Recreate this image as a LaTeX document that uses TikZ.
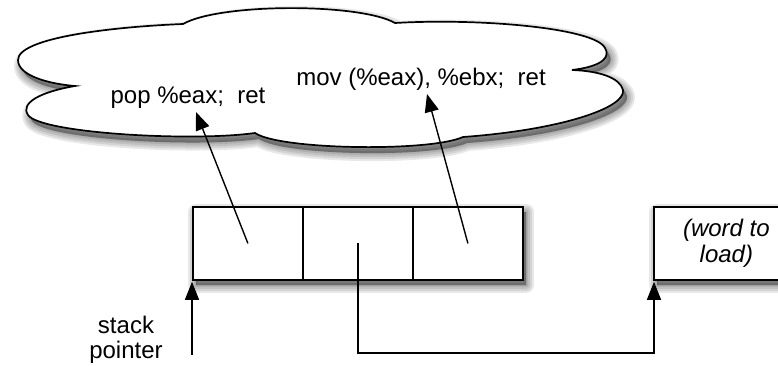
\documentclass[tikz,border=0pt]{standalone}
\usepackage{fontspec}
\setmainfont{Liberation Sans}
\usetikzlibrary{arrows.meta}

\begin{document}
\begin{tikzpicture}[x=1pt,y=-1pt,
  >={Triangle[length=18pt,width=14pt]},
  txt/.style={font=\fontsize{24}{25.5}\selectfont, align=center, inner sep=0pt},
  cell/.style={draw, line width=1.8pt, fill=white, minimum width=110pt,
    minimum height=73pt, inner sep=0pt, anchor=north west},
  shade/.style={fill=black, draw=black, opacity=0.09, line join=round, line width=#1},
  link/.style={line width=1.4pt, ->}]
\useasboundingbox (0,0) rectangle (778,366);

\def\cloudpath{(183,24)
  .. controls (110,27) and (18,38) .. (18,60)
  .. controls (18,76) and (50,84) .. (75,86)
  .. controls (40,92) and (20,103) .. (28,115)
  .. controls (40,133) and (190,142) .. (255,133)
  .. controls (280,150) and (430,152) .. (463,137)
  .. controls (560,130) and (626,108) .. (623,90)
  .. controls (620,78) and (600,71) .. (572,70)
  .. controls (605,66) and (610,56) .. (605,48)
  .. controls (595,28) and (480,18) .. (395,23)
  .. controls (360,3) and (220,3) .. (183,24) -- cycle}

% soft shadow under the gadget cloud
\foreach \w in {16,12,8,4,0.1}
  \path[shade=\w pt, shift={(4,6)}] \cloudpath;
% gadget cloud
\path[draw, line width=1.7pt, fill=white] \cloudpath;

\node[txt] (pop) at (188,98) {pop \%eax;\ \ ret};
\node[txt] (mov) at (421,79) {mov (\%eax), \%ebx;\ \ ret};
\coordinate (popin) at (196,112);
\coordinate (movin) at (427,94);

% stack cells and the loaded word
\coordinate (stacktl) at (192,206);
\coordinate (stackbr) at (522,279);
\coordinate (wordtl) at (653,206);
\coordinate (wordbr) at (798,279);
\foreach \w in {16,12,8,4,0.1} {
  \path[shade=\w pt] ([xshift=4pt,yshift=-6pt]stacktl) rectangle ([xshift=4pt,yshift=-6pt]stackbr);
  \path[shade=\w pt] ([xshift=4pt,yshift=-6pt]wordtl) rectangle ([xshift=4pt,yshift=-6pt]wordbr);
}
\node[cell] (c1) at (stacktl) {};
\node[cell] (c2) at (302,206) {};
\node[cell] (c3) at (412,206) {};
\node[cell, minimum width=145pt] (word) at (wordtl) {};
\node[txt, font=\fontsize{24}{25.5}\selectfont\itshape] (wordtxt) at (word.center) {(word to\\load)};

% stack pointer
\node[txt] (sp) at (126,340) {stack\\pointer};
\coordinate (spfoot) at (192,355);
\coordinate (bend) at (654,353);

% connectors
\draw[link] (c1.center) -- (popin);
\draw[link] (c3.center) -- (movin);
\draw[link] (spfoot) -- ([yshift=-1pt]c1.south west);
\draw[link] (c2.center) |- (bend) -- ([xshift=1pt,yshift=-1pt]word.south west);
\end{tikzpicture}
\end{document}
